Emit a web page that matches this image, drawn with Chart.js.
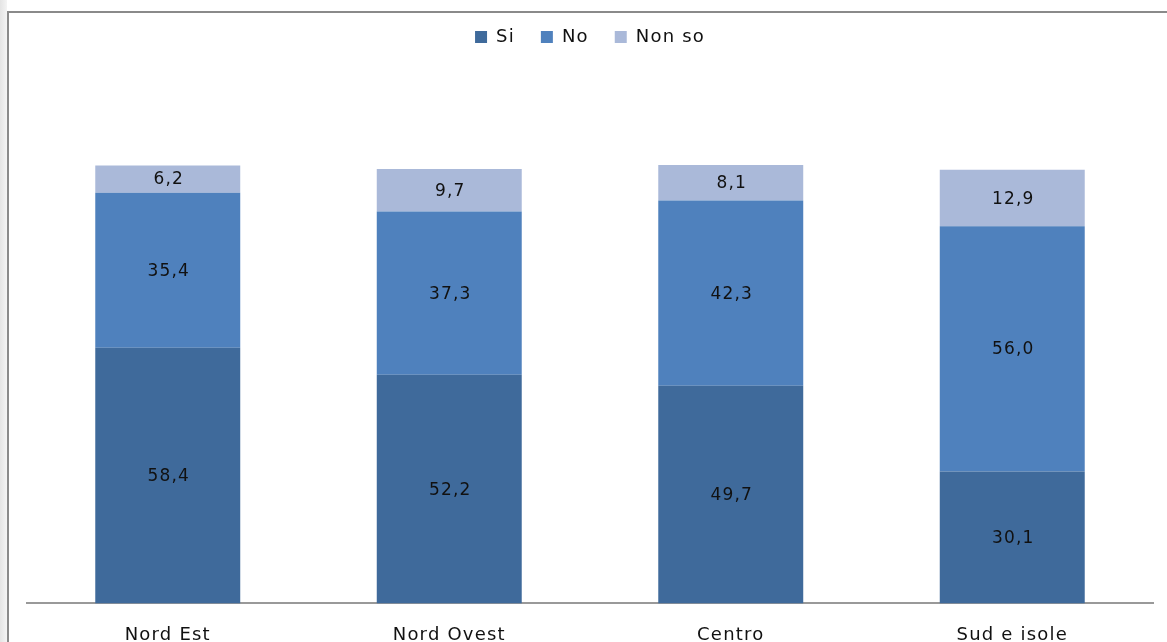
<!DOCTYPE html>
<html>
<head>
<meta charset="utf-8">
<script src="https://cdn.jsdelivr.net/npm/chart.js@4"></script>
<style>
  html, body { margin: 0; padding: 0; background: #fff; overflow: hidden; }
  #wrap { position: relative; width: 1167px; height: 642px; }
  #frame { position: absolute; left: 7px; top: 11px; right: 0; bottom: 0;
           border-left: 2px solid #8a8a8a; border-top: 2px solid #8a8a8a; }
  #side { position: absolute; left: 0; top: 0; width: 7px; height: 642px;
          background: linear-gradient(to right, #e4e4e4, #f4f4f4); }
  canvas { position: absolute; left: 0; top: 0; }
</style>
</head>
<body>
<div id="wrap">
  <div id="side"></div>
  <div id="frame"></div>
  <canvas id="myChart" width="1167" height="662"></canvas>
</div>
<script>
// SETUP
const categories = ['Nord Est', 'Nord Ovest', 'Centro', 'Sud e isole'];
const si = [58.4, 52.2, 49.7, 30.1];
const no = [35.4, 37.3, 42.3, 56.0];
const nonSo = [6.2, 9.7, 8.1, 12.9];

const FONT = 'DejaVu Sans';
const SPACING = '1.2px';

const data = {
    labels: categories,
    datasets: [
        { label: 'Si', data: si, backgroundColor: '#3f6a9b' },
        { label: 'No', data: no, backgroundColor: '#4f81bd' },
        { label: 'Non so', data: nonSo, backgroundColor: '#aab9d9' }
    ]
};

// the original text is a bit spaced out
// (canvas resize wipes the ctx state, so set it again before layout and draw)
const spacing = {
    id: 'spacing',
    beforeUpdate(chart) { chart.ctx.letterSpacing = SPACING; },
    beforeDraw(chart) { chart.ctx.letterSpacing = SPACING; }
};

// draws the value in the middle of each segment (comma decimals)
const valueLabels = {
    id: 'valueLabels',
    afterDatasetsDraw(chart) {
        const ctx = chart.ctx;
        ctx.save();
        ctx.font = '17px ' + FONT;
        ctx.fillStyle = '#111';
        ctx.textAlign = 'center';
        ctx.textBaseline = 'middle';
        chart.data.datasets.forEach((ds, i) => {
            chart.getDatasetMeta(i).data.forEach((bar, j) => {
                const mid = (bar.y + bar.base) / 2;
                ctx.fillText(ds.data[j].toFixed(1).replace('.', ','), bar.x + 1, mid + 1);
            });
        });
        ctx.restore();
    }
};

// CONFIG
const config = {
    type: 'bar',
    data: data,
    options: {
        responsive: false,
        animation: false,
        layout: { padding: { left: 27, right: 14, top: 2, bottom: 3 } },
        datasets: { bar: { categoryPercentage: 1, barPercentage: 0.515 } },
        plugins: {
            legend: {
                position: 'top',
                labels: {
                    boxWidth: 12, boxHeight: 12, padding: 26,
                    color: '#111',
                    font: { family: FONT, size: 18 }
                }
            },
            tooltip: { enabled: false }
        },
        scales: {
            x: {
                stacked: true,
                grid: { display: false },
                border: { display: true, color: '#999', width: 2 },
                ticks: { color: '#111', padding: 13, font: { family: FONT, size: 18 } }
            },
            y: {
                stacked: true,
                display: false,
                min: 0,
                max: 125
            }
        }
    },
    plugins: [spacing, valueLabels]
};

// RENDER
var myChart = new Chart(document.getElementById('myChart'), config);
</script>
</body>
</html>
